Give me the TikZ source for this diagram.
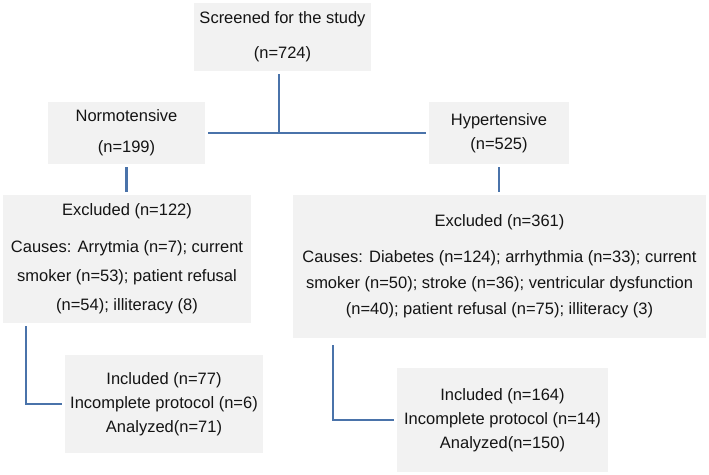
\documentclass[tikz,border=0pt]{standalone}
\usepackage{fontspec}
\setmainfont{Liberation Sans}
\definecolor{boxfill}{RGB}{242,242,242}
\definecolor{linkcol}{RGB}{74,115,170}
\definecolor{txt}{RGB}{20,20,20}
\begin{document}
\begin{tikzpicture}[x=1pt,y=-1pt,
  box/.style={fill=boxfill,draw=none,inner sep=0pt,outer sep=3pt,align=center,
    text=txt,font=\fontsize{16.5}{24}\selectfont},
  link/.style={draw=linkcol,line width=2.2pt}]
\useasboundingbox (0,0) rectangle (709,474);
\node[box,minimum width=177pt,minimum height=68pt] (top) at (282.5,37)
  {Screened for the study\\[11pt](n=724)};
\node[box,minimum width=157pt,minimum height=62pt] (normo) at (126.5,133)
  {Normotensive\\[7pt](n=199)};
\node[box,minimum width=140pt,minimum height=62pt] (hyper) at (499,133)
  {Hypertensive\\(n=525)};
\node[box,minimum width=248pt,minimum height=128pt] (exclL) at (127,259)
  {Excluded (n=122)\\[13pt]Causes: Arrytmia (n=7); current\\[5pt]smoker (n=53); patient refusal\\[5pt](n=54); illiteracy (8)};
\node[box,minimum width=413pt,minimum height=143pt] (exclR) at (499.5,266.5)
  {Excluded (n=361)\\[12pt]Causes: Diabetes (n=124); arrhythmia (n=33); current\\[2pt]smoker (n=50); stroke (n=36); ventricular dysfunction\\[2pt](n=40); patient refusal (n=75); illiteracy (3)};
\node[box,minimum width=198pt,minimum height=98pt] (inclL) at (164,404)
  {Included (n=77)\\Incomplete protocol (n=6)\\Analyzed(n=71)};
\node[box,minimum width=211pt,minimum height=104pt] (inclR) at (502.5,420)
  {Included (n=164)\\Incomplete protocol (n=14)\\Analyzed(n=150)};
\coordinate (trunk) at (279,133);
\coordinate (lx) at (26,0);
\coordinate (rx) at (333,0);
\draw[link] (top.south -| trunk) -- (trunk);
\draw[link] (normo.east |- trunk) -- (hyper.west |- trunk);
\draw[link] (normo.south) -- (normo.south |- exclL.north);
\draw[link] (hyper.south) -- (hyper.south |- exclR.north);
\draw[link] (exclL.south -| lx) |- (inclL.west);
\draw[link] ([yshift=-4pt]exclR.south -| rx) |- (inclR.west);
\end{tikzpicture}
\end{document}
